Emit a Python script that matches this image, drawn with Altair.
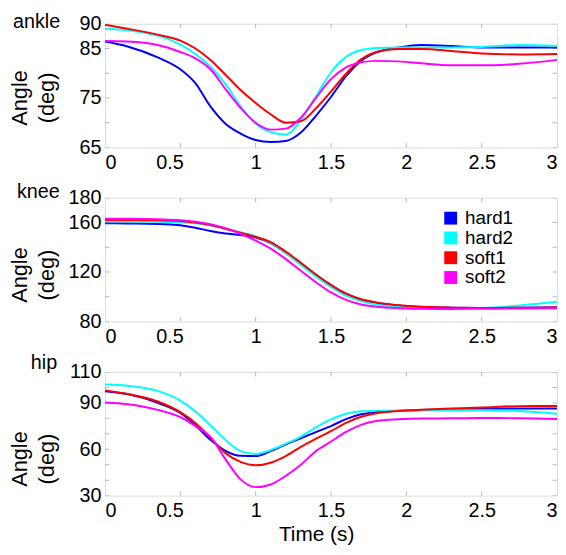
import altair as alt
import pandas as pd

FONT = "Liberation Sans"
GRAY = "#9a9a9a"

TIME = [0, 0.15, 0.35, 0.5, 0.6, 0.7, 0.8, 0.9, 1.0, 1.1, 1.2, 1.3, 1.4, 1.5,
        1.6, 1.7, 1.8, 1.95, 2.1, 2.3, 2.5, 2.75, 3.0]
SERIES = ["hard1", "hard2", "soft1", "soft2"]
COLORS = ["#0000ff", "#00ffff", "#ff0000", "#ff00ff"]

ANKLE_HARD1 = [86.4, 85.4, 83.2, 80.8, 78.0, 73.3, 69.8, 67.8, 66.5, 66.1, 66.3, 68.0,
               71.4, 75.2, 79.4, 82.5, 84.2, 85.2, 85.7, 85.5, 85.2, 85.2, 85.2]
ANKLE_HARD2 = [89.0, 88.7, 87.6, 85.8, 83.9, 81.3, 77.8, 73.3, 69.8, 68.1, 67.6, 70.5,
               75.3, 80.2, 83.3, 84.7, 85.1, 85.2, 85.2, 85.2, 85.3, 85.7, 85.5]
ANKLE_SOFT1 = [89.8, 89.0, 87.8, 86.6, 85.0, 82.7, 79.7, 76.6, 74.0, 71.7, 70.0, 70.3,
               72.9, 76.3, 79.9, 82.8, 84.3, 84.9, 84.9, 84.5, 84.0, 83.8, 83.9]
ANKLE_SOFT2 = [86.5, 86.4, 85.7, 84.3, 83.0, 80.8, 76.8, 73.0, 70.0, 68.6, 68.8, 71.0,
               75.0, 78.8, 81.2, 82.2, 82.5, 82.4, 82.0, 81.6, 81.6, 81.9, 82.7]

KNEE_HARD1 = [159.5, 159.3, 158.9, 157.8, 155.8, 153.2, 151.2, 150.0, 148.0, 143.5, 135.5, 126.5,
              117.8, 109.5, 102.5, 97.8, 95.2, 93.0, 91.8, 91.2, 91.0, 91.2, 91.5]
KNEE_HARD2 = [160.8, 160.8, 160.6, 160.2, 159.5, 157.8, 155.0, 152.0, 148.8, 143.8, 135.5, 125.8,
              116.5, 108.0, 101.0, 96.5, 93.8, 91.8, 91.0, 90.8, 91.0, 93.0, 96.0]
KNEE_SOFT1 = [162.1, 162.1, 161.9, 161.2, 160.0, 158.0, 155.0, 151.8, 148.5, 144.2, 136.5, 127.5,
              118.0, 109.5, 102.5, 98.0, 95.5, 93.2, 92.0, 91.2, 91.0, 91.1, 91.3]
KNEE_SOFT2 = [163.2, 163.1, 162.7, 162.0, 160.8, 158.7, 155.5, 151.0, 145.5, 139.0, 130.5, 121.0,
              111.8, 103.5, 97.5, 93.8, 92.0, 90.8, 90.3, 90.2, 90.3, 90.5, 90.8]

HIP_HARD1 = [97.6, 95.7, 90.0, 83.5, 75.5, 66.2, 59.0, 55.8, 55.6, 58.8, 63.2, 67.1,
             71.1, 75.0, 79.5, 82.6, 84.0, 84.9, 85.4, 85.8, 86.2, 86.4, 86.4]
HIP_HARD2 = [101.9, 101.1, 97.8, 91.5, 84.5, 75.5, 66.0, 58.8, 57.0, 59.5, 63.6, 68.2,
             74.2, 79.3, 83.0, 84.6, 85.0, 85.0, 85.1, 85.2, 85.3, 84.7, 83.0]
HIP_SOFT1 = [98.1, 95.8, 90.9, 84.0, 77.0, 67.5, 57.5, 51.8, 49.6, 51.3, 55.6, 61.6,
             66.8, 71.7, 77.0, 81.0, 83.3, 84.8, 85.6, 86.4, 87.0, 87.9, 88.0]
HIP_SOFT2 = [90.2, 89.1, 85.5, 80.8, 75.0, 68.0, 53.5, 40.5, 35.5, 37.2, 42.8, 50.0,
             58.8, 65.0, 71.2, 75.8, 78.3, 79.4, 79.9, 80.0, 80.2, 80.1, 79.5]

X_TICKS = [0, 0.5, 1, 1.5, 2, 2.5, 3]
ANKLE_TICKS = [65, 70, 75, 80, 85, 90]
ANKLE_LABELS = [65, 75, 85, 90]
KNEE_TICKS = [80, 100, 120, 140, 160, 180]
KNEE_LABELS = [80, 120, 160, 180]
HIP_TICKS = [30, 40, 50, 60, 70, 80, 90, 100, 110]
HIP_LABELS = [30, 60, 90, 110]

W, H = 457, 125
FS = 20
TFS = 22


def panel(name, series_lists, domain, ticks, labels, title_dy, name_pos,
          legend=False, xtitle=False):
    rows = []
    for s, vals in zip(SERIES, series_lists):
        for t, v in zip(TIME, vals):
            rows.append({"t": t, "v": v, "series": s})
    df = pd.DataFrame(rows)

    test = " || ".join(f"datum.value == {l}" for l in labels)
    xaxis = dict(values=X_TICKS, format="~g", ticks=False, domain=False, grid=False,
                 labelPadding=5, labelFontSize=FS, labelFont=FONT, labelColor="black",
                 labelOffset=alt.ConditionalAxisNumber(
                     condition={"test": "datum.value == 0.5", "value": -11}, value=0))
    if xtitle:
        xaxis.update(title="Time (s)", titleFontSize=21, titleFont=FONT,
                     titleFontWeight="normal", titleColor="black", titlePadding=3,
                     titleX=W / 2 - 15)
    else:
        xaxis.update(title=None)
    x_enc = alt.X("t:Q", scale=alt.Scale(domain=[0, 3], nice=False, zero=False),
                  axis=alt.Axis(**xaxis))
    y_enc = alt.Y("v:Q", scale=alt.Scale(domain=domain, nice=False, zero=False),
                  axis=alt.Axis(values=ticks, labelExpr=f"({test}) ? datum.label : ''",
                                ticks=False, domain=False, grid=False, labelPadding=4,
                                labelFontSize=FS, labelFont=FONT, labelColor="black",
                                title=["Angle", "(deg)"], titleFontSize=TFS, titleFont=FONT,
                                titleFontWeight="normal", titleColor="black",
                                titleX=-74, titleY=H / 2 + title_dy, titleAlign="center",
                                titleBaseline="bottom", titleAngle=270, titleLineHeight=27))
    cscale = alt.Scale(domain=SERIES, range=COLORS)

    lines = alt.Chart(df).mark_line(strokeWidth=2, interpolate="monotone", clip=True).encode(
        x=x_enc, y=y_enc, color=alt.Color("series:N", scale=cscale, legend=None),
        detail="series:N")

    ytick_df = pd.DataFrame([{"t": tx, "v": v} for v in ticks for tx in (0, 3)])
    xtick_df = pd.DataFrame([{"t": t, "v": yv} for t in X_TICKS[1:-1] for yv in domain])
    yt = alt.Chart(ytick_df).mark_tick(orient="horizontal", size=9, thickness=1,
                                       color=GRAY, clip=True).encode(x=x_enc, y=y_enc)
    xt = alt.Chart(xtick_df).mark_tick(orient="vertical", size=9, thickness=1,
                                       color=GRAY, clip=True).encode(x=x_enc, y=y_enc)

    label = alt.Chart(pd.DataFrame({"name": [name]})).mark_text(
        align="left", baseline="alphabetic", fontSize=20, font=FONT, color="black"
    ).encode(text="name:N", x=alt.value(name_pos[0]), y=alt.value(name_pos[1]))

    layers = [yt, xt, lines, label]
    if legend:
        leg = alt.Legend(title=None, orient="none", legendX=340, legendY=11,
                         symbolType="square", symbolSize=169, symbolStrokeWidth=0,
                         symbolOpacity=1, labelFontSize=19, labelFont=FONT,
                         labelColor="black", rowPadding=-1, padding=0, labelOffset=5)
        keys = alt.Chart(df).mark_square(opacity=0, size=1).encode(
            x=x_enc, y=y_enc, color=alt.Color("series:N", scale=cscale, legend=leg))
        layers.append(keys)

    return alt.layer(*layers).resolve_legend(color="independent").properties(width=W, height=H)


p1 = panel("ankle", [ANKLE_HARD1, ANKLE_HARD2, ANKLE_SOFT1, ANKLE_SOFT2], [65, 90],
           ANKLE_TICKS, ANKLE_LABELS, 12, (-93, 4))
p2 = panel("knee", [KNEE_HARD1, KNEE_HARD2, KNEE_SOFT1, KNEE_SOFT2], [80, 180],
           KNEE_TICKS, KNEE_LABELS, 15, (-89, 0), legend=True)
p3 = panel("hip", [HIP_HARD1, HIP_HARD2, HIP_SOFT1, HIP_SOFT2], [30, 110],
           HIP_TICKS, HIP_LABELS, 25, (-75, -3), xtitle=True)

chart = alt.vconcat(p1, p2, p3, spacing=51, bounds="flush").resolve_scale(
    color="independent"
).properties(
    padding={"left": 0, "top": 0, "right": 0, "bottom": 0}
).configure_view(stroke=GRAY, strokeWidth=1).configure(font=FONT)

chart.save("out.html", embed_options={"renderer": "svg", "actions": False})
